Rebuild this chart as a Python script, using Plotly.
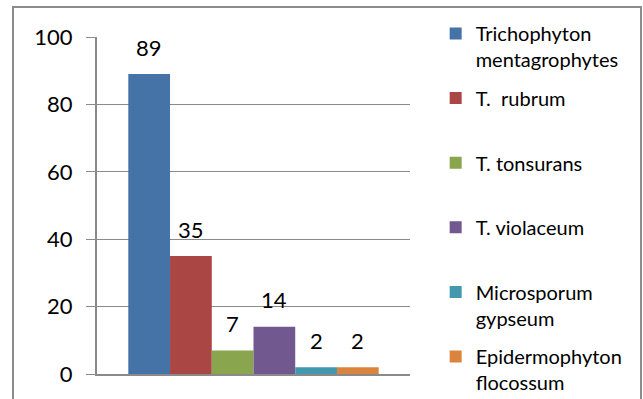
import plotly.graph_objects as go

species = ["Trichophyton<br>mentagrophytes", "T.  rubrum", "T. tonsurans",
           "T. violaceum", "Microsporum<br>gypseum", "Epidermophyton<br>flocossum"]
values = [89, 35, 7, 14, 2, 2]
colors = ["#4572A7", "#AA4643", "#89A54E", "#71588F", "#4198AF", "#DB843D"]
y_ticks = [0, 20, 40, 60, 80, 100]

FONT = "Lato"
bar_w = 0.8 / len(species)
PLOT_TOP, PLOT_BOTTOM = 37, 374

fig = go.Figure()
legend_layouts = {}
for i, (name, v, c) in enumerate(zip(species, values, colors)):
    off = -0.4 + i * bar_w
    lg = "legend" if i == 0 else f"legend{i + 1}"
    fig.add_trace(go.Bar(
        x=[0], y=[v], name=name, width=bar_w, offset=off,
        marker=dict(color=c, line=dict(width=0)),
        legend=lg,
    ))
    fig.add_annotation(x=off + bar_w / 2, y=v, text=str(v), showarrow=False,
                       yshift=27, font=dict(family=FONT, size=22, color="black"))
    top_px = 35 + i * 64.6 - 21
    legend_layouts[lg] = dict(
        x=1.082, y=(PLOT_BOTTOM - top_px) / (PLOT_BOTTOM - PLOT_TOP),
        xanchor="left", yanchor="top",
        font=dict(family=FONT, size=20, color="black"),
        valign="top", itemwidth=30, bgcolor="rgba(0,0,0,0)", maxheight=600,
    )

grid = "#8a8a8a"
fig.update_layout(
    width=643, height=399,
    margin=dict(l=97, r=233, t=PLOT_TOP, b=399 - PLOT_BOTTOM, autoexpand=False),
    paper_bgcolor="white", plot_bgcolor="white",
    barmode="overlay",
    showlegend=True,
    xaxis=dict(range=[-0.5, 0.5], showticklabels=False, showgrid=False,
               zeroline=False, showline=True, linecolor=grid, linewidth=2,
               ticks=""),
    yaxis=dict(range=[0, 100], tickvals=y_ticks, showgrid=True, gridcolor=grid,
               gridwidth=1, zeroline=False, showline=True, linecolor=grid,
               linewidth=2, ticks="outside", ticklen=9, tickcolor=grid,
               ticklabelstandoff=9,
               tickfont=dict(family=FONT, size=22, color="black")),
    shapes=[dict(type="rect", xref="paper", yref="paper",
                 x0=(13 - 97) / 313, x1=(641 - 97) / 313,
                 y0=-0.2, y1=(374 - 7) / 337,
                 line=dict(color="#8c8c8c", width=2), fillcolor="rgba(0,0,0,0)",
                 layer="below")],
    **legend_layouts,
)

fig.write_html("out.html")
